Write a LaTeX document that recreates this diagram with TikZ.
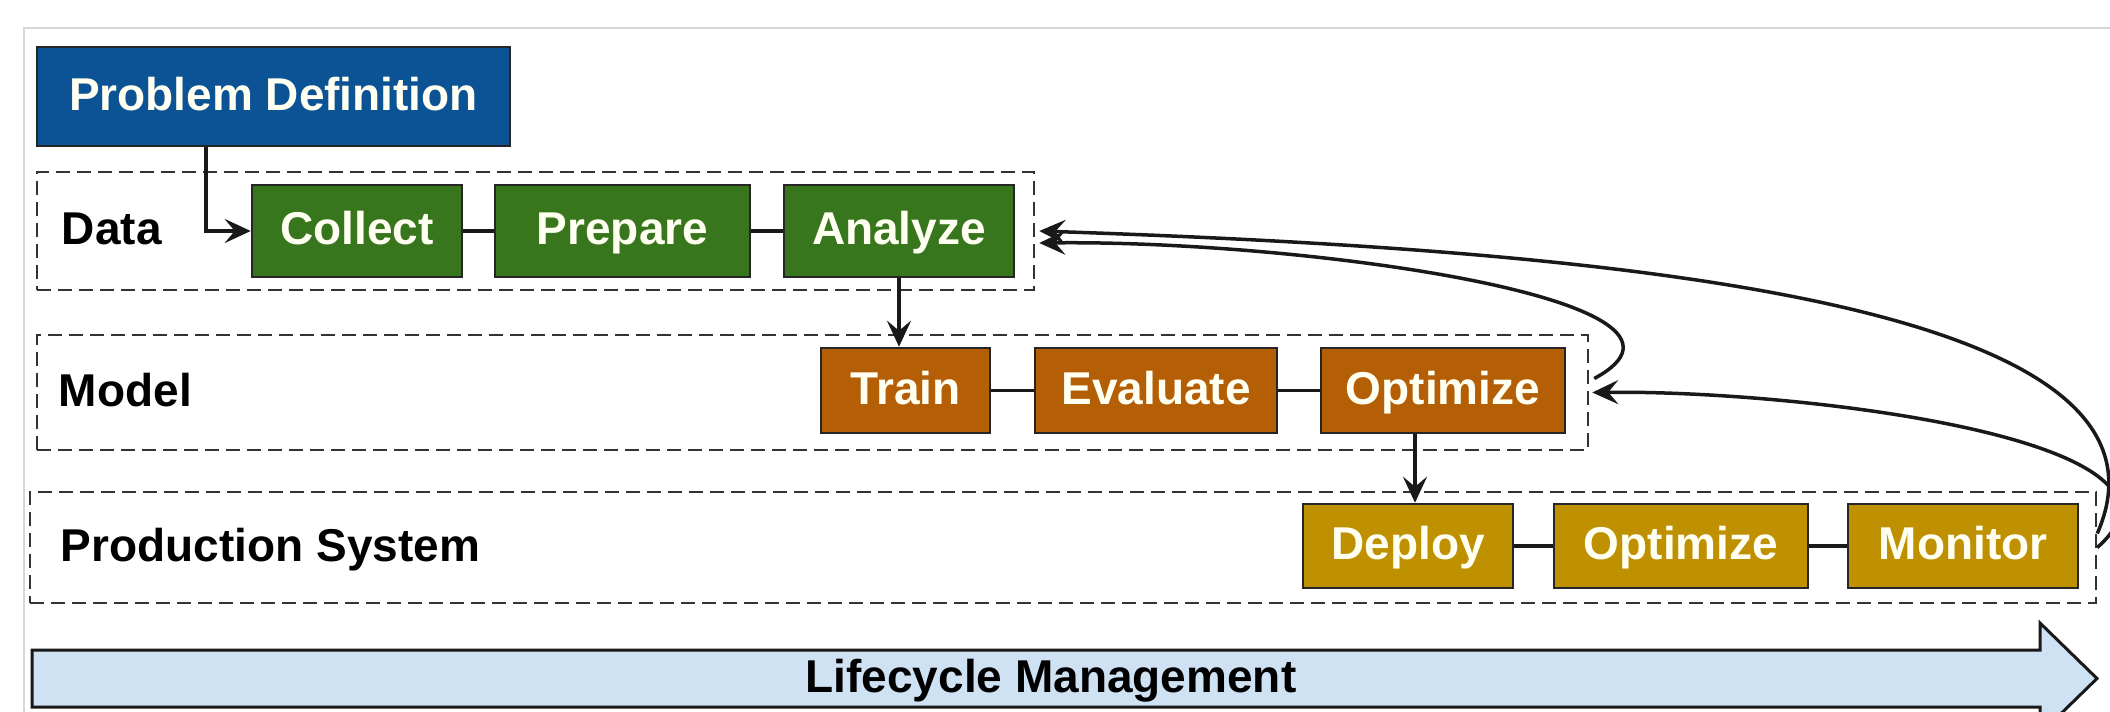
\documentclass[tikz,border=0pt]{standalone}
\usepackage{fontspec}
\setmainfont{Liberation Sans}
\usetikzlibrary{arrows.meta,calc}
\definecolor{pdblue}{HTML}{0B5394}
\definecolor{datagreen}{HTML}{38761D}
\definecolor{modelorange}{HTML}{B45F06}
\definecolor{prodgold}{HTML}{BF9000}
\definecolor{lifeblue}{HTML}{CFE2F3}
\definecolor{framegray}{HTML}{D6D6D6}
\definecolor{boxtext}{HTML}{FFFFF2}
\begin{document}
\begin{tikzpicture}[x=1pt,y=-1pt,
  bigfont/.style={font=\fontsize{46}{52}\selectfont\bfseries, text height=33pt, text depth=6pt},
  box/.style={draw=black!85, line width=2.5pt, bigfont, text=boxtext, inner sep=0pt},
  lane/.style={draw=black!80, line width=2.5pt, dash pattern=on 14pt off 7pt, inner sep=0pt},
  lanelabel/.style={bigfont, text=black, inner sep=0pt, anchor=west},
  link/.style={line width=3.5pt, draw=black!90},
  arr/.style={link, -{Stealth[length=26pt,width=24pt,inset=10pt]}},
]
\useasboundingbox (0,0) rectangle (2110,712);
\clip (0,0) rectangle (2110,712);
\fill[white] (0,0) rectangle (2110,712);
% faint outer frame
\draw[framegray, line width=2pt] (24,712) -- (24,28) -- (2110,28);

% swim lanes
\node[lane, minimum width=997pt, minimum height=118pt] (dlane) at (535.5,231) {};
\node[lane, minimum width=1551pt, minimum height=115pt] (mlane) at (812.5,392.5) {};
\node[lane, minimum width=2066pt, minimum height=111pt] (plane) at (1063,547.5) {};
\node[lanelabel] (dlabel) at ([xshift=26pt]dlane.west) {Data};
\node[lanelabel] (mlabel) at ([xshift=23pt]mlane.west) {Model};
\node[lanelabel] (plabel) at ([xshift=32pt]plane.west) {Production System};

% steps
\node[box, fill=pdblue, minimum width=473pt, minimum height=99pt] (pd) at (273.5,96.5) {Problem Definition};

\node[box, fill=datagreen, minimum width=210pt, minimum height=92pt] (collect) at (357,231) {Collect};
\node[box, fill=datagreen, minimum width=255pt, minimum height=92pt] (prepare) at (622.5,231) {Prepare};
\node[box, fill=datagreen, minimum width=230pt, minimum height=92pt] (analyze) at (899,231) {Analyze};

\node[box, fill=modelorange, minimum width=169pt, minimum height=85pt] (train) at (905.5,390.5) {Train};
\node[box, fill=modelorange, minimum width=242pt, minimum height=85pt] (evaluate) at (1156,390.5) {Evaluate};
\node[box, fill=modelorange, minimum width=244pt, minimum height=85pt] (optm) at (1443,390.5) {Optimize};

\node[box, fill=prodgold, minimum width=210pt, minimum height=84pt] (deploy) at (1408,546) {Deploy};
\node[box, fill=prodgold, minimum width=254pt, minimum height=84pt] (optp) at (1681,546) {Optimize};
\node[box, fill=prodgold, minimum width=230pt, minimum height=84pt] (monitor) at (1963,546) {Monitor};

% links inside the lanes
\draw[link] (collect.east) -- (prepare.west);
\draw[link] (prepare.east) -- (analyze.west);
\draw[link] (train.east) -- (evaluate.west);
\draw[link] (evaluate.east) -- (optm.west);
\draw[link] (deploy.east) -- (optp.west);
\draw[link] (optp.east) -- (monitor.west);

% hand-offs between stages
\draw[arr] ([xshift=170pt]pd.south west) |- (collect.west);
\draw[arr] (analyze.south) -- (analyze.south |- train.north);
\draw[arr] ([xshift=-28pt]optm.south) -- ([xshift=-28pt]optm.south |- deploy.north);

% feedback loops
\draw[arr] ([yshift=14pt]plane.east) .. controls (2200,300) and (1600,250) .. ([xshift=4pt]dlane.east);
\draw[arr] ([xshift=5pt,yshift=14pt]mlane.east) .. controls (1740,300) and (1300,240) .. ([xshift=4pt,yshift=-12pt]dlane.east);
\draw[arr] (plane.east) .. controls (2220,440) and (1800,390) .. ([xshift=3pt]mlane.east);

% lifecycle band
\draw[line width=3pt, draw=black!90, fill=lifeblue, line join=miter]
  (32,650) -- (2040,650) -- (2040,623) -- (2097,678.5) -- (2040,734) -- (2040,707) -- (32,707) -- cycle;
\node[bigfont, text=black, inner sep=0pt] (life) at (1051,678.5) {Lifecycle Management};
\end{tikzpicture}
\end{document}
